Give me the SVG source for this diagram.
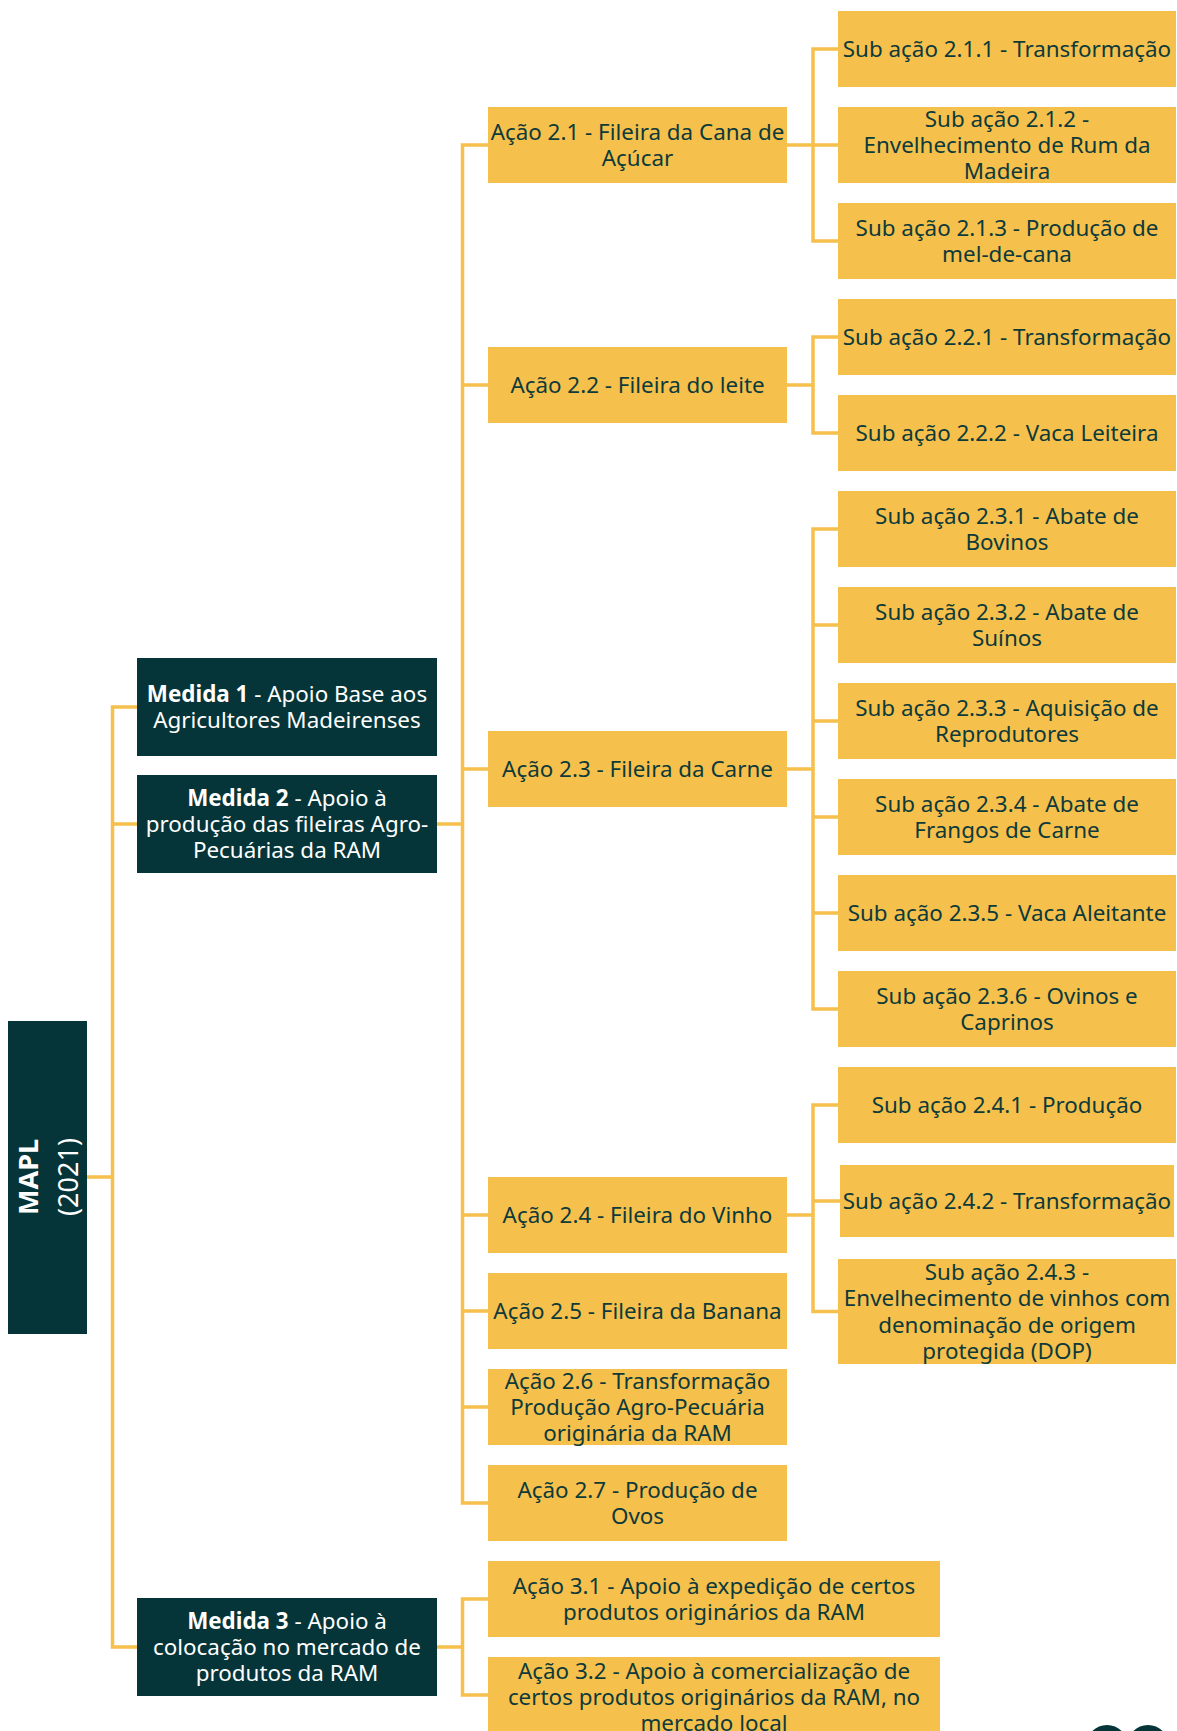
<svg xmlns="http://www.w3.org/2000/svg" width="1177" height="1731" viewBox="0 0 1177 1731">
<style>
.y{fill:#F6C04C}
.d{fill:#053538}
.t{font-family:"Noto Sans","Open Sans","DejaVu Sans",sans-serif;font-size:22.4px;fill:#0D3A3A;text-anchor:middle}
.w{font-family:"Noto Sans","Open Sans","DejaVu Sans",sans-serif;font-size:22.4px;fill:#FFFFFF;text-anchor:middle}
.b{font-weight:bold}
.c{fill:none;stroke:#F6C04C;stroke-width:3.5;stroke-linejoin:miter}
.m{font-family:"Noto Sans","Open Sans","DejaVu Sans",sans-serif;font-size:27px;fill:#FFFFFF;text-anchor:middle}
</style>
<rect width="1177" height="1731" fill="#FFFFFF"/>
<g id="connectors" class="c">
<path d="M87 1177H112.5M137 707H112.5V1647H137M112.5 824H137"/>
<path d="M437 824H462.5M488 145H462.5V1503H488M462.5 385H488M462.5 769H488M462.5 1215H488M462.5 1311H488M462.5 1407H488"/>
<path d="M437 1647H462.5M488 1599H462.5V1695H488"/>
<path d="M787 145H838M838 49H813V241H838"/>
<path d="M787 385H813M838 337H813V433H838"/>
<path d="M787 769H813M838 529H813V1009H838M813 625H838M813 721H838M813 817H838M813 913H838"/>
<path d="M787 1215H813M838 1105H813V1311.5H838M813 1201H840"/>
</g>
<g id="mapl"><rect class="d" x="8" y="1021" width="79" height="313"/>
<text class="m b" transform="translate(38,1177) rotate(-90)">MAPL</text>
<text class="m" transform="translate(78,1177) rotate(-90)">(2021)</text></g>
<g id="medida1"><rect class="d" x="137" y="658" width="300" height="98"/>
<text class="w" x="287" y="701.8"><tspan class="b">Medida 1</tspan> - Apoio Base aos</text>
<text class="w" x="287" y="728.2">Agricultores Madeirenses</text></g>
<g id="medida2"><rect class="d" x="137" y="775" width="300" height="98"/>
<text class="w" x="287" y="805.6"><tspan class="b">Medida 2</tspan> - Apoio à</text>
<text class="w" x="287" y="832">produção das fileiras Agro-</text>
<text class="w" x="287" y="858.4">Pecuárias da RAM</text></g>
<g id="medida3"><rect class="d" x="137" y="1598" width="300" height="98"/>
<text class="w" x="287" y="1628.6"><tspan class="b">Medida 3</tspan> - Apoio à</text>
<text class="w" x="287" y="1655">colocação no mercado de</text>
<text class="w" x="287" y="1681.4">produtos da RAM</text></g>
<g id="acao21"><rect class="y" x="488" y="107" width="299" height="76"/>
<text class="t" x="637.5" y="139.8">Ação 2.1 - Fileira da Cana de</text>
<text class="t" x="637.5" y="166.2">Açúcar</text></g>
<g id="acao22"><rect class="y" x="488" y="347" width="299" height="76"/>
<text class="t" x="637.5" y="393">Ação 2.2 - Fileira do leite</text></g>
<g id="acao23"><rect class="y" x="488" y="731" width="299" height="76"/>
<text class="t" x="637.5" y="777">Ação 2.3 - Fileira da Carne</text></g>
<g id="acao24"><rect class="y" x="488" y="1177" width="299" height="76"/>
<text class="t" x="637.5" y="1223">Ação 2.4 - Fileira do Vinho</text></g>
<g id="acao25"><rect class="y" x="488" y="1273" width="299" height="76"/>
<text class="t" x="637.5" y="1319">Ação 2.5 - Fileira da Banana</text></g>
<g id="acao26"><rect class="y" x="488" y="1369" width="299" height="76"/>
<text class="t" x="637.5" y="1388.6">Ação 2.6 - Transformação</text>
<text class="t" x="637.5" y="1415">Produção Agro-Pecuária</text>
<text class="t" x="637.5" y="1441.4">originária da RAM</text></g>
<g id="acao27"><rect class="y" x="488" y="1465" width="299" height="76"/>
<text class="t" x="637.5" y="1497.8">Ação 2.7 - Produção de</text>
<text class="t" x="637.5" y="1524.2">Ovos</text></g>
<g id="acao31"><rect class="y" x="488" y="1561" width="452" height="76"/>
<text class="t" x="714" y="1593.8">Ação 3.1 - Apoio à expedição de certos</text>
<text class="t" x="714" y="1620.2">produtos originários da RAM</text></g>
<g id="acao32"><rect class="y" x="488" y="1657" width="452" height="80"/>
<text class="t" x="714" y="1679">Ação 3.2 - Apoio à comercialização de</text>
<text class="t" x="714" y="1705">certos produtos originários da RAM, no</text>
<text class="t" x="714" y="1731">mercado local</text></g>
<g id="sub211"><rect class="y" x="838" y="11" width="338" height="76"/>
<text class="t" x="1007" y="57">Sub ação 2.1.1 - Transformação</text></g>
<g id="sub212"><rect class="y" x="838" y="107" width="338" height="76"/>
<text class="t" x="1007" y="126.6">Sub ação 2.1.2 -</text>
<text class="t" x="1007" y="153">Envelhecimento de Rum da</text>
<text class="t" x="1007" y="179.4">Madeira</text></g>
<g id="sub213"><rect class="y" x="838" y="203" width="338" height="76"/>
<text class="t" x="1007" y="235.8">Sub ação 2.1.3 - Produção de</text>
<text class="t" x="1007" y="262.2">mel-de-cana</text></g>
<g id="sub221"><rect class="y" x="838" y="299" width="338" height="76"/>
<text class="t" x="1007" y="345">Sub ação 2.2.1 - Transformação</text></g>
<g id="sub222"><rect class="y" x="838" y="395" width="338" height="76"/>
<text class="t" x="1007" y="441">Sub ação 2.2.2 - Vaca Leiteira</text></g>
<g id="sub231"><rect class="y" x="838" y="491" width="338" height="76"/>
<text class="t" x="1007" y="523.8">Sub ação 2.3.1 - Abate de</text>
<text class="t" x="1007" y="550.2">Bovinos</text></g>
<g id="sub232"><rect class="y" x="838" y="587" width="338" height="76"/>
<text class="t" x="1007" y="619.8">Sub ação 2.3.2 - Abate de</text>
<text class="t" x="1007" y="646.2">Suínos</text></g>
<g id="sub233"><rect class="y" x="838" y="683" width="338" height="76"/>
<text class="t" x="1007" y="715.8">Sub ação 2.3.3 - Aquisição de</text>
<text class="t" x="1007" y="742.2">Reprodutores</text></g>
<g id="sub234"><rect class="y" x="838" y="779" width="338" height="76"/>
<text class="t" x="1007" y="811.8">Sub ação 2.3.4 - Abate de</text>
<text class="t" x="1007" y="838.2">Frangos de Carne</text></g>
<g id="sub235"><rect class="y" x="838" y="875" width="338" height="76"/>
<text class="t" x="1007" y="921">Sub ação 2.3.5 - Vaca Aleitante</text></g>
<g id="sub236"><rect class="y" x="838" y="971" width="338" height="76"/>
<text class="t" x="1007" y="1003.8">Sub ação 2.3.6 - Ovinos e</text>
<text class="t" x="1007" y="1030.2">Caprinos</text></g>
<g id="sub241"><rect class="y" x="838" y="1067" width="338" height="76"/>
<text class="t" x="1007" y="1113">Sub ação 2.4.1 - Produção</text></g>
<g id="sub242"><rect class="y" x="840" y="1165" width="334" height="72"/>
<text class="t" x="1007" y="1209">Sub ação 2.4.2 - Transformação</text></g>
<g id="sub243"><rect class="y" x="838" y="1259" width="338" height="105"/>
<text class="t" x="1007" y="1279.9">Sub ação 2.4.3 -</text>
<text class="t" x="1007" y="1306.3">Envelhecimento de vinhos com</text>
<text class="t" x="1007" y="1332.7">denominação de origem</text>
<text class="t" x="1007" y="1359.1">protegida (DOP)</text></g>
<g id="pagemark" fill="none" stroke="#053538" stroke-width="8">
<circle cx="1107" cy="1746" r="17"/>
<circle cx="1148" cy="1746" r="17"/>
</g>
</svg>
